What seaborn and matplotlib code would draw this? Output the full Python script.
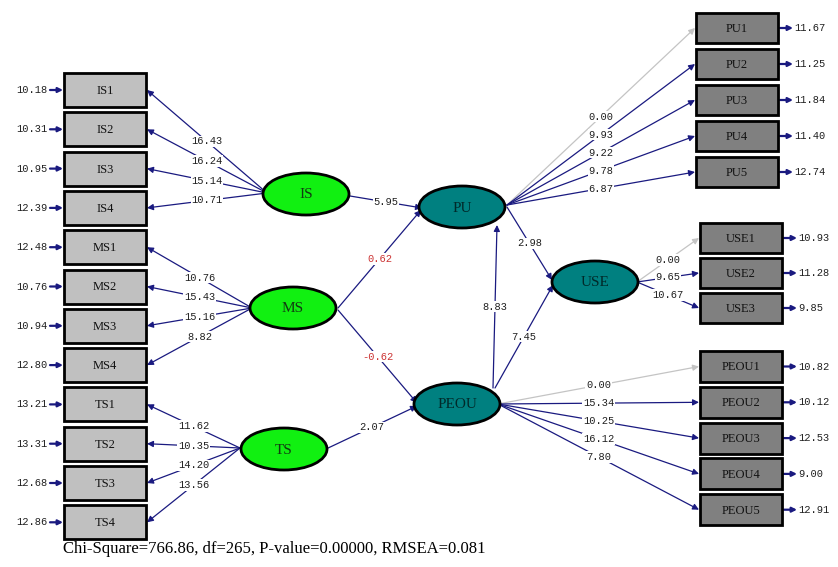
import numpy as np
import matplotlib
matplotlib.use("Agg")
import matplotlib.pyplot as plt
from matplotlib.patches import Rectangle, Ellipse, FancyArrowPatch
import seaborn as sns

sns.set_theme(style="white")

# ---- values (t-values of the LISREL solution) ----
is_items = ["IS1", "IS2", "IS3", "IS4"]
is_t = [16.43, 16.24, 15.14, 10.71]
is_err = [10.18, 10.31, 10.95, 12.39]

ms_items = ["MS1", "MS2", "MS3", "MS4"]
ms_t = [10.76, 15.43, 15.16, 8.82]
ms_err = [12.48, 10.76, 10.94, 12.80]

ts_items = ["TS1", "TS2", "TS3", "TS4"]
ts_t = [11.62, 10.35, 14.20, 13.56]
ts_err = [13.21, 13.31, 12.68, 12.86]

pu_items = ["PU1", "PU2", "PU3", "PU4", "PU5"]
pu_t = [0.00, 9.93, 9.22, 9.78, 6.87]
pu_err = [11.67, 11.25, 11.84, 11.40, 12.74]

use_items = ["USE1", "USE2", "USE3"]
use_t = [0.00, 9.65, 10.67]
use_err = [10.93, 11.28, 9.85]

peou_items = ["PEOU1", "PEOU2", "PEOU3", "PEOU4", "PEOU5"]
peou_t = [0.00, 15.34, 10.25, 16.12, 7.80]
peou_err = [10.82, 10.12, 12.53, 9.00, 12.91]

path_from = ["IS", "MS", "MS", "TS", "PEOU", "PEOU", "PU"]
path_to = ["PU", "PU", "PEOU", "PEOU", "PU", "USE", "USE"]
path_t = [5.95, 0.62, -0.62, 2.07, 8.83, 7.45, 2.98]

fit_text = "Chi-Square=766.86, df=265, P-value=0.00000, RMSEA=0.081"

# ---- layout (pixel space of the diagram) ----
latent_xy = {"IS": (306, 194), "MS": (293, 308), "TS": (284, 449),
             "PU": (462, 207), "PEOU": (457, 404), "USE": (595, 282)}
latent_w, latent_h = 86, 42
exo = ["IS", "MS", "TS"]

# where indicator lines leave each latent
fan_off = {"IS": (-39, -1), "MS": (-41, 0), "TS": (-44, -1),
           "PU": (45, -2), "USE": (42, 0), "PEOU": (41, 0)}
# anchors of the structural paths (offset at start, offset at end)
path_off = [((44, 2), (-40, 1)), ((45, 0), (-41, 3)), ((45, 2), (-40, -1)),
            ((42, 0), (-40, 2)), ((36, -16), (35, 18)), ((38, -16), (-42, 3)),
            ((45, 0), (-43, -2))]

NAVY = "#1a1a80"
GREY = "#c4c4c4"
mono = "Liberation Mono"
serif = "Liberation Serif"

fig = plt.figure(figsize=(8.38, 5.67), dpi=100)
ax = fig.add_axes([0, 0, 1, 1])
ax.set_xlim(0, 838)
ax.set_ylim(567, 0)
ax.axis("off")


def arrow(p0, p1, color=NAVY, lw=0.9, ms=9):
    a = FancyArrowPatch(p0, p1, arrowstyle="-|>", mutation_scale=ms,
                        color=color, lw=lw, shrinkA=0, shrinkB=0, zorder=2)
    ax.add_patch(a)


def tlabel(x, y, val, color="#202020"):
    ax.text(x, y, f"{val:.2f}", ha="center", va="center", fontsize=7.5,
            family=mono, color=color, zorder=4,
            bbox=dict(facecolor="white", edgecolor="none", pad=0.6))


def box(x, y, w, h, name, fill):
    ax.add_patch(Rectangle((x, y), w, h, facecolor=fill, edgecolor="black",
                           lw=2, zorder=3))
    ax.text(x + w / 2, y + h / 2 + 1, name, ha="center", va="center",
            fontsize=9, family=serif, color="#111111", zorder=4)


# left side indicators (x-variables)
left_groups = [("IS", is_items, is_t, is_err), ("MS", ms_items, ms_t, ms_err),
               ("TS", ts_items, ts_t, ts_err)]
lx, lw_, lh, ltop, lstep = 64, 82, 34, 73, 39.3
k = 0
for lat, items, tv, ev in left_groups:
    cx, cy = latent_xy[lat]
    sx, sy = cx + fan_off[lat][0], cy + fan_off[lat][1]
    for name, t, e in zip(items, tv, ev):
        y0 = ltop + k * lstep
        ym = y0 + lh / 2
        box(lx, y0, lw_, lh, name, "#c0c0c0")
        ex, ey = lx + lw_ + 1, ym
        arrow((sx, sy), (ex, ey))
        tlabel((sx + ex) / 2, (sy + ey) / 2, t)
        arrow((50, ym), (lx - 1, ym), ms=7, lw=1.6)
        ax.text(48, ym, f"{e:.2f}", ha="right", va="center", fontsize=7.5,
                family=mono, color="#202020")
        k += 1

# right side indicators (y-variables)
right_groups = [("PU", pu_items, pu_t, pu_err, 696, 13, 36.0, 30),
                ("USE", use_items, use_t, use_err, 700, 223, 35.0, 30),
                ("PEOU", peou_items, peou_t, peou_err, 700, 351, 35.8, 31)]
rw = 82
for lat, items, tv, ev, rx, rtop, rstep, rh in right_groups:
    cx, cy = latent_xy[lat]
    sx, sy = cx + fan_off[lat][0], cy + fan_off[lat][1]
    for i, (name, t, e) in enumerate(zip(items, tv, ev)):
        y0 = rtop + i * rstep
        ym = y0 + rh / 2
        box(rx, y0, rw, rh, name, "#808080")
        ex, ey = rx - 1, ym
        col = GREY if t == 0 else NAVY
        arrow((sx, sy), (ex, ey), color=col)
        tlabel((sx + ex) / 2, (sy + ey) / 2, t)
        arrow((rx + rw + 2, ym), (rx + rw + 15, ym), ms=7, lw=1.6)
        ax.text(rx + rw + 16, ym, f"{e:.2f}", ha="left", va="center",
                fontsize=7.5, family=mono, color="#202020")

# structural paths
for f, to, t, (o0, o1) in zip(path_from, path_to, path_t, path_off):
    x0, y0 = latent_xy[f]
    x1, y1 = latent_xy[to]
    p0 = (x0 + o0[0], y0 + o0[1])
    p1 = (x1 + o1[0], y1 + o1[1])
    arrow(p0, p1)
    col = "#cc3333" if abs(t) < 1.96 else "#202020"
    tlabel((p0[0] + p1[0]) / 2, (p0[1] + p1[1]) / 2, t, color=col)

# latent variables
for lat, (cx, cy) in latent_xy.items():
    fill = "#11f011" if lat in exo else "#008080"
    ax.add_patch(Ellipse((cx, cy), latent_w, latent_h, facecolor=fill,
                         edgecolor="black", lw=2, zorder=5))
    ax.text(cx, cy + 1, lat, ha="center", va="center", fontsize=11,
            family=serif, color="#123a12" if lat in exo else "#002a2a",
            zorder=6)

ax.text(63, 553, fit_text, ha="left", va="baseline", fontsize=12,
        family=serif, color="black")

fig.savefig("out.png", dpi=100)
